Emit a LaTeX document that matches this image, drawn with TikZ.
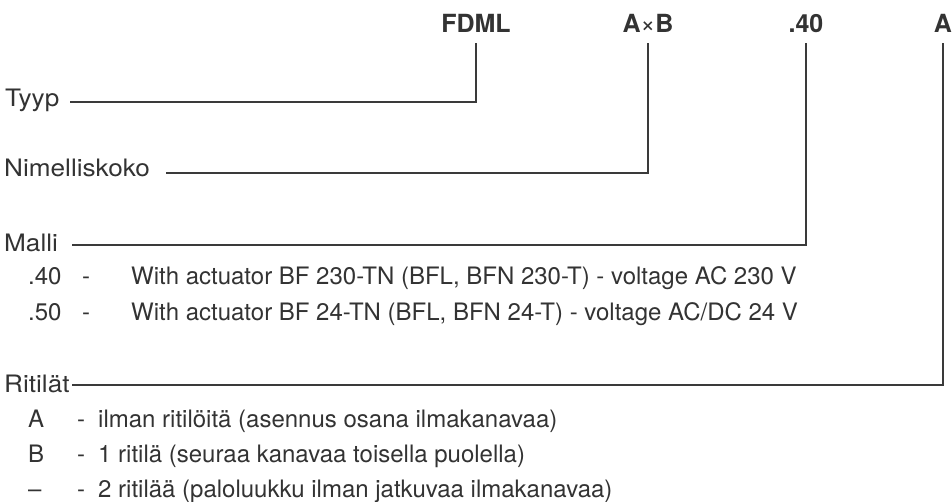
\documentclass[tikz,border=0pt]{standalone}
\usepackage{fontspec}
\setmainfont{TeX Gyre Heros}
\definecolor{ink}{HTML}{333333}
\definecolor{wire}{HTML}{3A3A3A}
\newcommand{\lblstretch}[1]{\scalebox{1.09}[1]{#1}}
\begin{document}
\begin{tikzpicture}[x=1pt,y=-1pt,
  codebox/.style={inner sep=0pt, anchor=base, text=ink, font=\fontsize{25}{25}\selectfont\bfseries},
  lbl/.style={inner sep=0pt, anchor=base west, text=ink, font=\fontsize{24}{24}\selectfont},
  conn/.style={draw=wire, line width=1.4pt}]
\useasboundingbox[fill=white] (0,0) rectangle (952,502);
% code header
\node[codebox] (fdml) at (476,33) {FDML};
\node[codebox] (axb) at (648,33) {A{\mdseries×}B};
\node[codebox] (c40) at (806,33) {.40};
\node[codebox] (ca) at (943,33) {A};
% labels
\node[lbl] (tyyp) at (5,107) {\lblstretch{Tyyp}};
\node[lbl] (nimi) at (4,177) {\lblstretch{Nimelliskoko}};
\node[lbl] (malli) at (4,252) {\lblstretch{Malli}};
\node[lbl] (ritilat) at (4,392) {\lblstretch{Ritilät}};
% Malli items
\node[lbl] (m40c) at (28,285) {.40};
\node[lbl] (m40d) at (82,285) {-};
\node[lbl] (m40t) at (131,285) {With actuator BF 230-TN (BFL, BFN 230-T) - voltage AC 230 V};
\node[lbl] (m50c) at (28,320) {.50};
\node[lbl] (m50d) at (82,320) {-};
\node[lbl] (m50t) at (131,320) {With actuator BF 24-TN (BFL, BFN 24-T) - voltage AC/DC 24 V};
% Ritilat items
\node[lbl] (rac) at (28,427) {A};
\node[lbl] (rad) at (77,427) {-};
\node[lbl] (rat) at (98,427) {ilman ritilöitä (asennus osana ilmakanavaa)};
\node[lbl] (rbc) at (28,462) {B};
\node[lbl] (rbd) at (77,462) {-};
\node[lbl] (rbt) at (98,462) {1 ritilä (seuraa kanavaa toisella puolella)};
\node[lbl] (rcc) at (28,497) {–};
\node[lbl] (rcd) at (77,497) {-};
\node[lbl] (rct) at (98,497) {2 ritilää (paloluukku ilman jatkuvaa ilmakanavaa)};
% connector start points
\coordinate (s1) at (70,102);
\coordinate (s2) at (166,173);
\coordinate (s3) at (72,245);
\coordinate (s4) at (72,385);
\draw[conn] (s1) -| ([yshift=-10pt]fdml.base);
\draw[conn] (s2) -| ([yshift=-10pt]axb.base);
\draw[conn] (s3) -| ([yshift=-10pt]c40.base);
\draw[conn] (s4) -| ([yshift=-10pt]ca.base);
\end{tikzpicture}
\end{document}
